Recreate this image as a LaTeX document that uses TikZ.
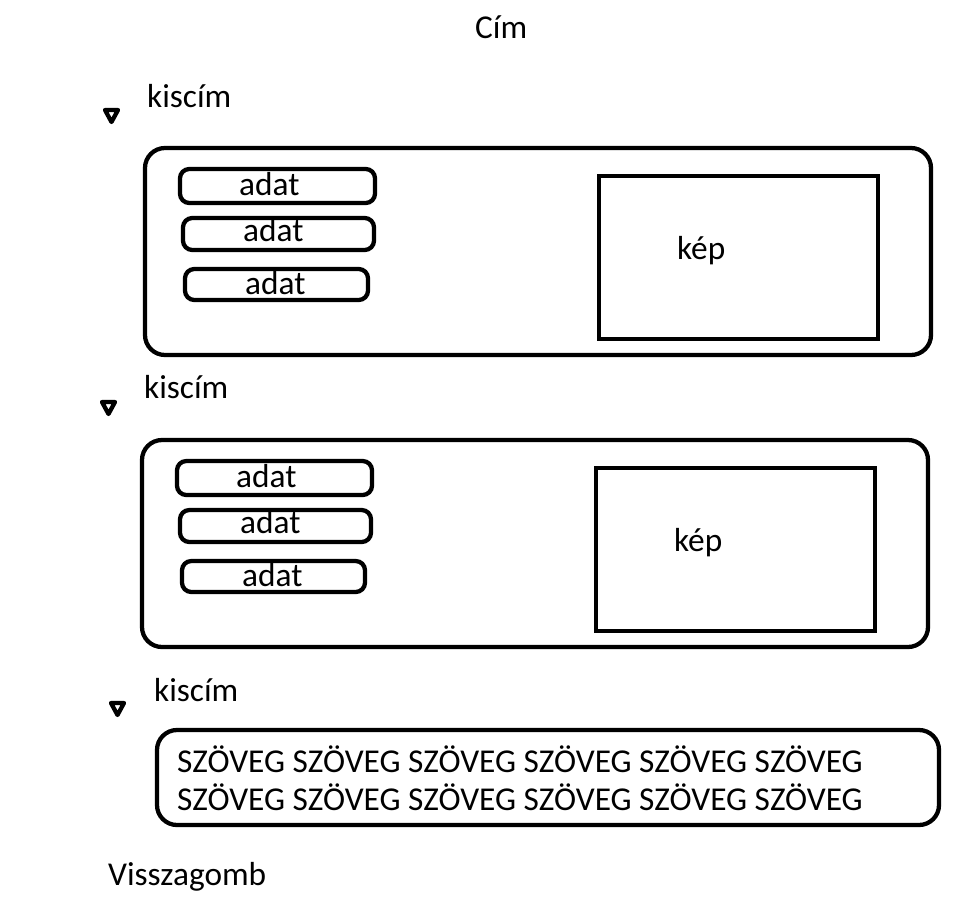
\documentclass[tikz,border=0pt]{standalone}
\usepackage{fontspec}
\setmainfont{Carlito}
\tikzset{every picture/.style={line width=3.2pt}}
\tikzset{
  felirat/.style={anchor=base west, inner sep=0pt, font=\fontsize{25}{30}\selectfont},
  keret/.style={rounded corners=15pt},
  adatkeret/.style={rounded corners=7pt},
  lenyilo/.style={line width=3.2pt, line join=round}
}
\begin{document}
\begin{tikzpicture}[x=0.75pt,y=0.75pt,yscale=-1,xscale=1]
\useasboundingbox (0,0) rectangle (974,907);

% Text Node
\node [felirat] (cim) at (473,38) {Cím};

%Shape: Triangle
\draw [lenyilo] (105,110) -- (118,110) -- (111.5,122) -- cycle ;
% Text Node
\node [felirat] (kiscimA) at (145,107) {kiscím};
%Rounded Rect
\draw [keret] (145,148) rectangle (931,355) ;
%Rounded Rect
\draw [adatkeret] (180,169) rectangle (375,203) ;
%Rounded Rect
\draw [adatkeret] (183,218) rectangle (374,250) ;
%Rounded Rect
\draw [adatkeret] (185,269) rectangle (368,300) ;
%Shape: Rectangle
\draw (599,176) rectangle (878,339) ;
% Text Node
\node [felirat] (adatA1) at (237,195) {adat};
% Text Node
\node [felirat] (adatA2) at (241,241) {adat};
% Text Node
\node [felirat] (adatA3) at (243,294) {adat};
% Text Node
\node [felirat] (kepA) at (675,259) {kép};

%Shape: Triangle
\draw [lenyilo] (102,402) -- (115,402) -- (108.5,414) -- cycle ;
% Text Node
\node [felirat] (kiscimB) at (142,398) {kiscím};
%Rounded Rect
\draw [keret] (142,440) rectangle (928,647) ;
%Rounded Rect
\draw [adatkeret] (177,461) rectangle (372,495) ;
%Rounded Rect
\draw [adatkeret] (180,510) rectangle (371,542) ;
%Rounded Rect
\draw [adatkeret] (182,561) rectangle (365,592) ;
%Shape: Rectangle
\draw (596,468) rectangle (875,631) ;
% Text Node
\node [felirat] (adatB1) at (234,487) {adat};
% Text Node
\node [felirat] (adatB2) at (238,533) {adat};
% Text Node
\node [felirat] (adatB3) at (240,586) {adat};
% Text Node
\node [felirat] (kepB) at (672,551) {kép};

%Shape: Triangle
\draw [lenyilo] (111,703) -- (124,703) -- (117.5,715) -- cycle ;
% Text Node
\node [felirat] (kiscimC) at (152,701) {kiscím};
%Rounded Rect
\draw [keret] (157,730) rectangle (939,825) ;
% Text Node
\node [felirat] (szovegA) at (175,772) {SZÖVEG SZÖVEG SZÖVEG SZÖVEG SZÖVEG SZÖVEG};
% Text Node
\node [felirat] (szovegB) at (175,810) {SZÖVEG SZÖVEG SZÖVEG SZÖVEG SZÖVEG SZÖVEG};

% Text Node
\node [felirat] (vissza) at (106,885) {Visszagomb};

\end{tikzpicture}
\end{document}
